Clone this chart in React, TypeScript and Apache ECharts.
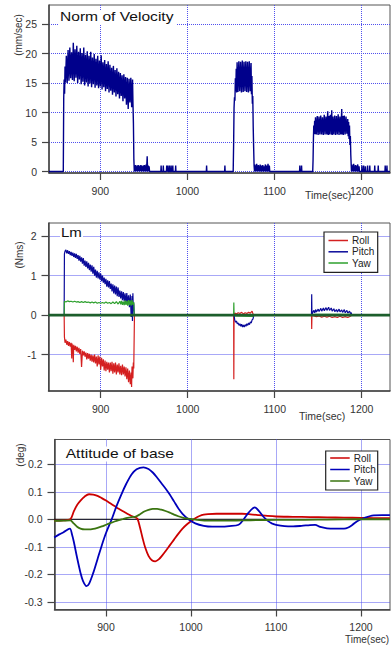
import React, { useEffect, useRef } from 'react';
import * as echarts from 'echarts';

const FONT = "'Liberation Sans', Arial, Helvetica, sans-serif";

// ---------- tick values ----------
const X_TICKS = [900, 1000, 1100, 1200];
const VEL_TICKS = [0, 5, 10, 15, 20, 25];
const LM_TICKS = [-1, 0, 1, 2];
const ATT_TICKS = [-0.3, -0.2, -0.1, 0, 0.1, 0.2];

const LEGEND_NAMES = ['Roll', 'Pitch', 'Yaw'];

// ---------- Norm of Velocity (mm/sec) ----------
const VELOCITY: number[][] = [
  [841, 0], [857.5, 0], [858, 12.5], [858.5, 15.6], [859, 13.2], [859.5, 17.8], [860, 15.1], [861, 19.6], [862, 15.0], [863, 20.6],
  [864, 15.4], [865, 21.0], [866, 15.8], [867, 20.2], [868, 15.5], [869, 21.8], [870, 15.3], [871, 20.7], [872, 15.9], [873, 21.3],
  [874, 15.0], [875, 20.3], [876, 15.6], [877, 20.9], [878, 14.8], [879, 20.1], [880, 15.2], [881, 21.0], [882, 14.6], [883, 19.8],
  [884, 15.1], [885, 20.4], [886, 14.4], [887, 19.6], [888, 14.9], [889, 20.3], [890, 14.3], [891, 19.3], [892, 14.8], [893, 19.9],
  [894, 14.2], [895, 19.1], [896, 14.6], [897, 19.6], [898, 14.1], [899, 18.8], [900, 14.4], [901, 19.7], [902, 13.9], [903, 18.5],
  [904, 14.3], [905, 18.9], [906, 13.6], [907, 18.2], [908, 14.0], [909, 18.7], [910, 13.4], [911, 18.1], [912, 13.7], [913, 17.6],
  [914, 13.0], [915, 17.9], [916, 13.4], [917, 17.2], [918, 12.7], [919, 17.5], [920, 13.1], [921, 16.9], [922, 12.4], [923, 16.7],
  [924, 12.8], [925, 16.3], [926, 11.9], [927, 16.5], [928, 12.4], [929, 16.0], [930, 11.3], [931, 15.9], [932, 10.6], [933, 15.7],
  [934, 11.7], [935, 15.9], [936, 10.9], [937, 15.6], [937.5, 11.4], [938, 8.2], [938.5, 2.1],
  [939, 0], [939.5, 1.0], [940, 0.1], [940.5, 1.1], [941, 0], [941.5, 0.9], [942, 0.1], [942.5, 1.0], [943, 0], [943.5, 1.1],
  [944, 0.1], [944.5, 0.9], [945, 0], [945.5, 1.0], [946, 0.1], [946.5, 1.1], [947, 0], [947.5, 1.0], [948, 0], [948.5, 0.9],
  [949, 0.1], [949.5, 1.0], [950, 0], [950.5, 1.1], [951, 0], [951.5, 1.0], [952, 0.1], [952.5, 1.2], [953, 0], [953.8, 2.6],
  [954.3, 0], [955, 1.0], [955.5, 0], [956, 0.9], [956.5, 0], [957, 0],
  [969.5, 0], [969.8, 1.0], [970.1, 0], [972, 0], [972.3, 1.0], [972.6, 0], [975.9, 0], [976.2, 1.0], [976.5, 0], [977.2, 0],
  [977.5, 1.0], [977.8, 0], [979.1, 0], [979.4, 1.0], [979.7, 0], [981, 0], [981.3, 1.0], [981.6, 0], [982.9, 0], [983.2, 1.0],
  [983.5, 0], [986.2, 0], [986.5, 1.0], [986.8, 0],
  [1021.7, 0], [1022, 1.0], [1022.3, 0], [1042.7, 0], [1043, 1.0], [1043.3, 0],
  [1052.5, 0], [1053, 4.5], [1053.5, 10.8], [1054, 12.6], [1054.5, 12.0], [1055, 15.8], [1055.5, 13.6], [1056, 17.4], [1056.5, 13.4],
  [1057, 18.5], [1058, 13.5], [1059, 18.7], [1060, 13.6], [1061, 18.6], [1062, 13.4], [1063, 18.8], [1064, 13.5], [1065, 18.6],
  [1066, 13.6], [1067, 18.7], [1068, 13.5], [1069, 18.6], [1070, 13.4], [1071, 18.7], [1072, 13.6], [1073, 18.4], [1073.5, 13.1],
  [1074, 16.2], [1074.5, 11.5], [1075, 12.8], [1075.5, 7.5], [1076, 4.0], [1076.5, 1.0],
  [1077, 0], [1077.5, 1.2], [1078, 0.1], [1078.5, 1.0], [1079, 0], [1079.5, 1.3], [1080, 0.1], [1080.5, 1.0], [1081, 0], [1081.5, 1.1],
  [1082, 0], [1082.5, 0.9], [1083, 0.1], [1083.5, 1.2], [1084, 0], [1085, 1.0], [1085.5, 0], [1086.5, 1.1], [1087, 0], [1088, 0.9],
  [1088.5, 0], [1089.5, 1.2], [1090, 0], [1091, 1.0], [1091.5, 0], [1092.5, 1.3], [1093, 0], [1094, 1.0], [1094.5, 0],
  [1128.7, 0], [1129, 1.0], [1129.3, 0], [1130.7, 0], [1131, 1.0], [1131.3, 0],
  [1143.8, 0], [1144.2, 2.0], [1144.6, 5.5], [1145, 7.8], [1145.5, 6.4], [1146, 8.6], [1146.5, 6.3], [1147, 9.2], [1148, 6.3],
  [1149, 9.4], [1150, 6.2], [1151, 9.3], [1152, 6.3], [1153, 9.5], [1154, 6.3], [1155, 9.2], [1156, 6.2], [1157, 9.6], [1158, 6.3],
  [1159, 9.3], [1160, 6.3], [1161, 10.2], [1161.7, 6.2], [1162.5, 9.4], [1163, 6.3], [1164, 9.6], [1165, 6.3], [1165.6, 10.4],
  [1166.2, 6.2], [1167, 9.3], [1168, 6.3], [1169, 9.5], [1170, 6.2], [1171, 9.4], [1172, 6.3], [1173, 9.7], [1174, 6.2], [1175, 9.3],
  [1176, 6.3], [1177.1, 10.6], [1177.6, 6.3], [1178.5, 9.4], [1179, 6.2], [1180, 9.5], [1181, 6.3], [1182, 9.3], [1183, 6.4],
  [1184, 8.9], [1184.5, 6.0], [1185, 8.4], [1185.5, 5.5], [1186, 7.8], [1186.5, 4.5], [1187, 6.0], [1187.5, 2.8], [1188, 1.0], [1188.3, 0],
  [1188.8, 1.2], [1189.3, 0], [1189.8, 1.0], [1190.3, 0.1], [1190.8, 1.3], [1191.3, 0], [1191.8, 0.9], [1192.3, 0], [1192.8, 1.1],
  [1193.3, 0], [1194, 1.0], [1194.5, 0], [1195.5, 1.2], [1196, 0], [1197, 0.9], [1197.5, 0],
  [1200, 0], [1200.3, 1.0], [1200.6, 0], [1202, 0], [1202.3, 1.0], [1202.6, 0], [1204, 0], [1204.3, 0.9], [1204.6, 0], [1206.5, 0],
  [1206.8, 1.0], [1207.1, 0], [1209, 0], [1209.3, 1.0], [1209.6, 0], [1214.7, 0], [1215, 1.0], [1215.3, 0], [1218.7, 0], [1219, 1.0],
  [1219.3, 0], [1226.7, 0], [1227, 1.0], [1227.3, 0], [1228.7, 0], [1229, 1.0], [1229.3, 0], [1232.5, 0],
];

// ---------- Lm (Nms) ----------
const LM_ROLL: number[][] = [
  [840, 0], [858, 0], [858.3, -0.55], [859, -0.7], [860, -0.62], [861, -0.75], [862, -0.66], [863, -0.78], [864, -0.68], [865, -0.8],
  [866, -0.7], [866.7, -1.1], [867, -0.72], [868, -0.85], [868.5, -1.19], [869, -0.75], [870, -0.88], [871, -0.78], [872, -0.92],
  [873, -0.8], [874, -0.95], [875, -0.83], [876, -0.98], [877, -0.86], [878, -1.31], [879, -0.9], [880, -1.02], [881, -0.92],
  [882, -1.05], [883, -0.95], [884, -1.12], [885, -0.96], [886, -1.1], [887, -0.98], [888, -1.15], [889, -1.0], [890, -1.18],
  [891, -1.02], [892, -1.2], [893, -1.0], [894, -1.22], [895, -1.05], [896, -1.3], [897, -1.02], [898, -1.25], [899, -1.05],
  [900, -1.38], [901, -1.08], [902, -1.3], [903, -1.12], [904, -1.4], [905, -1.15], [906, -1.42], [907, -1.18], [908, -1.38],
  [909, -1.2], [910, -1.45], [911, -1.2], [912, -1.42], [913, -1.18], [914, -1.48], [915, -1.22], [916, -1.45], [917, -1.2],
  [918, -1.5], [919, -1.25], [920, -1.45], [921, -1.22], [922, -1.5], [923, -1.28], [924, -1.52], [925, -1.25], [926, -1.5],
  [927, -1.3], [928, -1.55], [929, -1.32], [930, -1.62], [931, -1.35], [932, -1.7], [933, -1.4], [934, -1.75], [935, -1.45],
  [935.5, -1.82], [936, -1.3], [937, -1.6], [937.5, -1.2], [938, -1.35], [938.8, 0],
  [1052.8, 0], [1053, -1.62], [1053.3, 0], [1054, 0.05], [1056, 0.03], [1058, 0.06], [1060, 0.04], [1062, 0.07], [1064, 0.03],
  [1066, 0.06], [1068, 0.04], [1070, 0.07], [1072, 0.05], [1074, 0.1], [1075, 0.03], [1076, 0],
  [1142.3, 0], [1142.5, -0.35], [1142.8, 0], [1145, -0.02], [1148, -0.04], [1151, -0.02], [1154, -0.05], [1157, -0.03], [1160, -0.05],
  [1163, -0.03], [1166, -0.06], [1169, -0.04], [1172, -0.06], [1175, -0.03], [1178, -0.06], [1181, -0.04], [1184, -0.06],
  [1187, -0.03], [1188.5, 0], [1232.5, 0],
];

const LM_PITCH: number[][] = [
  [840, 0], [858, 0], [858.3, 1.55], [859, 1.62], [860, 1.65], [861, 1.56], [862, 1.64], [863, 1.55], [864, 1.62], [865, 1.52],
  [866, 1.6], [867, 1.5], [868, 1.58], [869, 1.47], [870, 1.56], [871, 1.45], [872, 1.55], [873, 1.42], [874, 1.52], [875, 1.38],
  [876, 1.5], [877, 1.35], [878, 1.46], [879, 1.3], [880, 1.44], [881, 1.25], [882, 1.38], [883, 1.22], [884, 1.36], [885, 1.18],
  [886, 1.32], [887, 1.14], [888, 1.28], [889, 1.1], [890, 1.26], [891, 1.05], [892, 1.22], [893, 1.0], [894, 1.15], [895, 0.95],
  [896, 1.12], [897, 0.93], [898, 1.08], [899, 0.9], [900, 1.05], [901, 0.86], [902, 1.0], [903, 0.82], [904, 0.95], [905, 0.78],
  [906, 0.92], [907, 0.72], [908, 0.88], [909, 0.7], [910, 0.86], [911, 0.66], [912, 0.8], [913, 0.6], [914, 0.78], [915, 0.55],
  [916, 0.75], [917, 0.52], [918, 0.72], [919, 0.48], [920, 0.7], [921, 0.46], [922, 0.62], [923, 0.42], [924, 0.6], [925, 0.38],
  [926, 0.58], [927, 0.35], [928, 0.55], [929, 0.3], [930, 0.56], [931, 0.28], [932, 0.5], [933, 0.2], [934, 0.52], [935, -0.05],
  [936, 0.48], [936.5, -0.15], [937, 0.55], [937.5, 0.1], [938, 0.3], [938.5, 0],
  [1053.3, 0], [1054, -0.12], [1055, -0.18], [1056, -0.15], [1057, -0.22], [1058, -0.2], [1059, -0.26], [1060, -0.22], [1061, -0.28],
  [1062, -0.23], [1063, -0.3], [1064, -0.25], [1065, -0.3], [1066, -0.24], [1067, -0.28], [1068, -0.22], [1069, -0.26], [1070, -0.2],
  [1071, -0.24], [1072, -0.17], [1073, -0.2], [1074, -0.12], [1075, -0.1], [1076, 0],
  [1142.3, 0], [1142.5, 0.53], [1142.8, 0], [1144, 0.08], [1145, 0.12], [1146, 0.06], [1147, 0.14], [1148, 0.08], [1150, 0.15],
  [1151, 0.09], [1153, 0.17], [1154, 0.1], [1156, 0.18], [1157, 0.11], [1159, 0.19], [1160, 0.12], [1162, 0.2], [1163, 0.12],
  [1165, 0.18], [1166, 0.1], [1168, 0.16], [1169, 0.09], [1171, 0.14], [1172, 0.08], [1174, 0.15], [1175, 0.08], [1177, 0.13],
  [1178, 0.07], [1180, 0.14], [1181, 0.06], [1183, 0.12], [1184, 0.05], [1186, 0.1], [1187, 0.04], [1188, 0.06], [1188.5, 0],
  [1232.5, 0],
];

const LM_YAW: number[][] = [
  [840, 0], [858, 0], [858.3, 0.35], [860, 0.33], [862, 0.36], [864, 0.34], [866, 0.35], [868, 0.33], [870, 0.35], [872, 0.33],
  [874, 0.34], [876, 0.32], [878, 0.34], [880, 0.32], [882, 0.34], [884, 0.32], [886, 0.33], [888, 0.31], [890, 0.33], [892, 0.31],
  [894, 0.33], [896, 0.3], [898, 0.32], [900, 0.3], [902, 0.32], [904, 0.3], [906, 0.33], [908, 0.3], [910, 0.32], [912, 0.29],
  [914, 0.33], [916, 0.29], [918, 0.34], [920, 0.28], [922, 0.35], [923, 0.27], [924, 0.36], [925, 0.26], [926, 0.34], [927, 0.25],
  [928, 0.37], [929, 0.26], [930, 0.36], [931, 0.24], [932, 0.38], [933, 0.25], [934, 0.37], [935, 0.24], [936, 0.38], [937, 0.26],
  [938, 0.33], [938.5, 0],
  [1052.8, 0], [1053, 0.32], [1053.3, 0], [1055, -0.02], [1075, -0.03], [1076, 0],
  [1144, 0], [1146, 0.02], [1186, 0.02], [1188, 0], [1232.5, 0],
];

const LM_ZERO: number[][] = [[840, 0], [1232.5, 0]];

// ---------- Attitude of base (deg) ----------
const ATT_ROLL: number[][] = [
  [839, -0.005], [850, -0.004], [858, 0.0], [862, 0.028], [866, 0.052], [870, 0.068], [875, 0.083], [880, 0.091], [885, 0.09],
  [890, 0.085], [895, 0.077], [900, 0.068], [905, 0.058], [910, 0.048], [915, 0.038], [920, 0.029], [925, 0.02], [930, 0.012],
  [935, 0.006], [937, 0.002], [940, -0.03], [943, -0.068], [946, -0.102], [950, -0.133], [954, -0.149], [958, -0.153],
  [962, -0.146], [966, -0.132], [970, -0.116], [975, -0.095], [980, -0.074], [985, -0.053], [990, -0.034], [995, -0.019],
  [1000, -0.007], [1005, 0.004], [1010, 0.012], [1015, 0.017], [1020, 0.019], [1030, 0.02], [1040, 0.02], [1050, 0.02],
  [1060, 0.02], [1070, 0.018], [1080, 0.015], [1090, 0.012], [1100, 0.01], [1120, 0.009], [1140, 0.008], [1160, 0.007],
  [1180, 0.006], [1200, 0.005], [1220, 0.004], [1234, 0.004],
];

const ATT_PITCH: number[][] = [
  [839, -0.066], [845, -0.055], [850, -0.047], [857.5, -0.034], [860, -0.055], [862, -0.08], [866, -0.14], [870, -0.195],
  [873, -0.225], [877, -0.243], [880, -0.235], [885, -0.195], [890, -0.145], [895, -0.095], [900, -0.05], [906.7, 0.0],
  [912, 0.045], [918, 0.09], [924, 0.13], [930, 0.163], [936, 0.182], [944, 0.189], [950, 0.183], [955, 0.17], [960, 0.152],
  [965, 0.132], [970, 0.112], [975, 0.09], [980, 0.065], [985, 0.04], [990, 0.02], [997, 0.0], [1005, -0.015], [1015, -0.024],
  [1025, -0.027], [1035, -0.027], [1045, -0.025], [1056, -0.02], [1062, 0.0], [1068, 0.025], [1075, 0.043], [1080, 0.03],
  [1085, 0.01], [1090, -0.005], [1095, -0.015], [1100, -0.02], [1110, -0.025], [1120, -0.026], [1130, -0.024], [1140, -0.021],
  [1146, -0.02], [1152, -0.028], [1160, -0.033], [1170, -0.034], [1180, -0.034], [1185, -0.03], [1190, -0.02], [1195, -0.008],
  [1200, 0.0], [1205, 0.006], [1210, 0.011], [1215, 0.014], [1225, 0.015], [1234, 0.015],
];

const ATT_YAW: number[][] = [
  [839, -0.006], [850, -0.005], [858, -0.004], [862, -0.015], [866, -0.027], [870, -0.034], [875, -0.037], [880, -0.037],
  [885, -0.035], [890, -0.031], [895, -0.026], [900, -0.02], [905, -0.014], [910, -0.008], [915, -0.003], [920, 0.001],
  [925, 0.005], [930, 0.008], [935, 0.01], [940, 0.018], [945, 0.028], [950, 0.034], [955, 0.038], [960, 0.038], [965, 0.035],
  [970, 0.03], [975, 0.024], [980, 0.017], [985, 0.011], [990, 0.006], [995, 0.003], [1000, 0.001], [1010, -0.003],
  [1020, -0.005], [1040, -0.005], [1060, -0.004], [1080, -0.003], [1100, -0.002], [1130, -0.002], [1160, -0.001],
  [1200, 0.0], [1234, 0.0],
];

const ATT_ZERO: number[][] = [[839, 0], [1234, 0]];

// ---------- colours ----------
const C_VEL = '#00008b';
const LM_COLORS = ['#d42020', '#0a0a9a', '#2ea02e'];
const ATT_COLORS = ['#cc0000', '#0000bb', '#3a7410'];
const GRID_LINE = { color: '#5050ee', width: 1, type: [1, 1] };

function xAxis(gridIndex: number, min: number, max: number) {
  return {
    type: 'value', gridIndex, min, max, minInterval: 100, maxInterval: 100,
    axisLine: { show: true, onZero: false, lineStyle: { color: '#444', width: 1.5 } },
    axisTick: { show: true, length: 7, customValues: X_TICKS, lineStyle: { color: '#444', width: 1.2 } },
    axisLabel: {
      customValues: X_TICKS, color: '#333', fontSize: 10.5, fontFamily: FONT, margin: 12,
      formatter: (v: number) => String(v),
    },
    splitLine: { show: true, lineStyle: GRID_LINE },
  };
}

function yAxis(gridIndex: number, min: number, max: number, step: number, ticks: number[], fmt?: (v: number) => string) {
  return {
    type: 'value', gridIndex, min, max, minInterval: step, maxInterval: step,
    axisLine: { show: true, onZero: false, lineStyle: { color: '#444', width: 1.5 } },
    axisTick: { show: true, length: 7, customValues: ticks, lineStyle: { color: '#444', width: 1.2 } },
    axisLabel: {
      customValues: ticks, color: '#333', fontSize: 10.5, fontFamily: FONT, margin: 12,
      formatter: fmt || ((v: number) => String(v)),
    },
    splitLine: { show: true, lineStyle: GRID_LINE },
  };
}

function line(name: string, data: number[][], xi: number, color: string, width: number, extra: any = {}) {
  return {
    type: 'line', name, data, xAxisIndex: xi, yAxisIndex: xi,
    showSymbol: false, symbol: 'none', silent: true, clip: true,
    lineStyle: { color, width }, itemStyle: { color },
    ...extra,
  };
}

function legendBox(x: number, y: number, w: number, h: number, rowY: number[], colors: string[]) {
  const els: any[] = [
    { type: 'rect', z: 100, shape: { x, y, width: w, height: h }, style: { fill: '#fff', stroke: '#222', lineWidth: 1.2 } },
  ];
  LEGEND_NAMES.forEach((n, i) => {
    els.push({ type: 'line', z: 101, shape: { x1: x + 4.5, y1: rowY[i], x2: x + 24, y2: rowY[i] }, style: { stroke: colors[i], lineWidth: 1.5 } });
    els.push({
      type: 'text', z: 101, x: x + 28, y: rowY[i],
      style: { text: n, fill: '#222', fontSize: 10, lineHeight: 10, fontFamily: FONT, align: 'left', verticalAlign: 'middle' },
    });
  });
  return els;
}

function title(text: string, x: number, y: number, boxW: number, scaleX: number) {
  return [
    { type: 'rect', z: 100, shape: { x: x - 1, y: y - 7, width: boxW, height: 15 }, style: { fill: '#fff' } },
    { type: 'text', z: 101, x, y, scaleX, style: { text, fill: '#111', fontSize: 12, fontFamily: FONT, align: 'left', verticalAlign: 'middle' } },
  ];
}

function vText(text: string, x: number, y: number) {
  return { type: 'text', z: 101, x, y, rotation: Math.PI / 2, style: { text, fill: '#333', fontSize: 10, fontFamily: FONT, align: 'center', verticalAlign: 'middle' } };
}

function hText(text: string, x: number, y: number, size = 10.5) {
  return { type: 'text', z: 101, x, y, style: { text, fill: '#333', fontSize: size, lineHeight: 10, fontFamily: FONT, align: 'left', verticalAlign: 'middle' } };
}

export default function App() {
  const ref = useRef<HTMLDivElement>(null);
  useEffect(() => {
    document.body.style.margin = '0';
    const chart = echarts.init(ref.current!, null, { renderer: 'svg' });
    const option: any = {
      animation: false,
      backgroundColor: '#fff',
      grid: [
        { left: 49, top: 5, width: 341, height: 168, show: true, borderColor: '#555', borderWidth: 1 },
        { left: 48.5, top: 223, width: 341.5, height: 168, show: true, borderColor: '#555', borderWidth: 1 },
        { left: 54.5, top: 439.5, width: 335.5, height: 170, show: true, borderColor: '#555', borderWidth: 1 },
      ],
      xAxis: [xAxis(0, 841.1, 1232.5), xAxis(1, 840, 1232.5), xAxis(2, 839.4, 1234.1)],
      yAxis: [
        yAxis(0, -0.25, 28.22, 5, VEL_TICKS),
        yAxis(1, -1.92, 2.33, 1, LM_TICKS),
        yAxis(2, -0.328, 0.29, 0.1, ATT_TICKS, (v: number) => v.toFixed(1)),
      ],
      series: [
        line('Velocity', VELOCITY, 0, C_VEL, 1.4),
        line('Roll', LM_ROLL, 1, LM_COLORS[0], 1.2),
        line('Pitch', LM_PITCH, 1, LM_COLORS[1], 1.2),
        line('Yaw', LM_YAW, 1, LM_COLORS[2], 1.2),
        line('zero', LM_ZERO, 1, '#1c5e2c', 2.8, { z: 5 }),
        line('zero2', ATT_ZERO, 2, '#000', 1, { z: 1 }),
        line('Roll', ATT_ROLL, 2, ATT_COLORS[0], 1.8, { smooth: 0.3 }),
        line('Pitch', ATT_PITCH, 2, ATT_COLORS[1], 1.8, { smooth: 0.3 }),
        line('Yaw', ATT_YAW, 2, ATT_COLORS[2], 1.8, { smooth: 0.3 }),
      ],
      graphic: {
        elements: [
          ...title('Norm of Velocity', 60, 17, 117, 1.3),
          ...title('Lm', 61, 233.3, 23, 1.25),
          ...title('Attitude of base', 65.7, 453.5, 111, 1.3),
          vText('(mm/sec)', 18.5, 35),
          vText('(Nms)', 19, 255),
          vText('(deg)', 20, 455),
          hText('Time(sec)', 305, 195),
          hText('Time(sec)', 299, 416),
          hText('Time(sec)', 345, 639, 10),
          ...legendBox(324, 232, 53.7, 40.3, [240.5, 251.8, 263], LM_COLORS),
          ...legendBox(325.7, 451, 52, 39, [458, 469.5, 481], ATT_COLORS),
        ],
      },
    };
    chart.setOption(option);
    return () => chart.dispose();
  }, []);
  return <div ref={ref} style={{ width: 391, height: 648 }} />;
}
